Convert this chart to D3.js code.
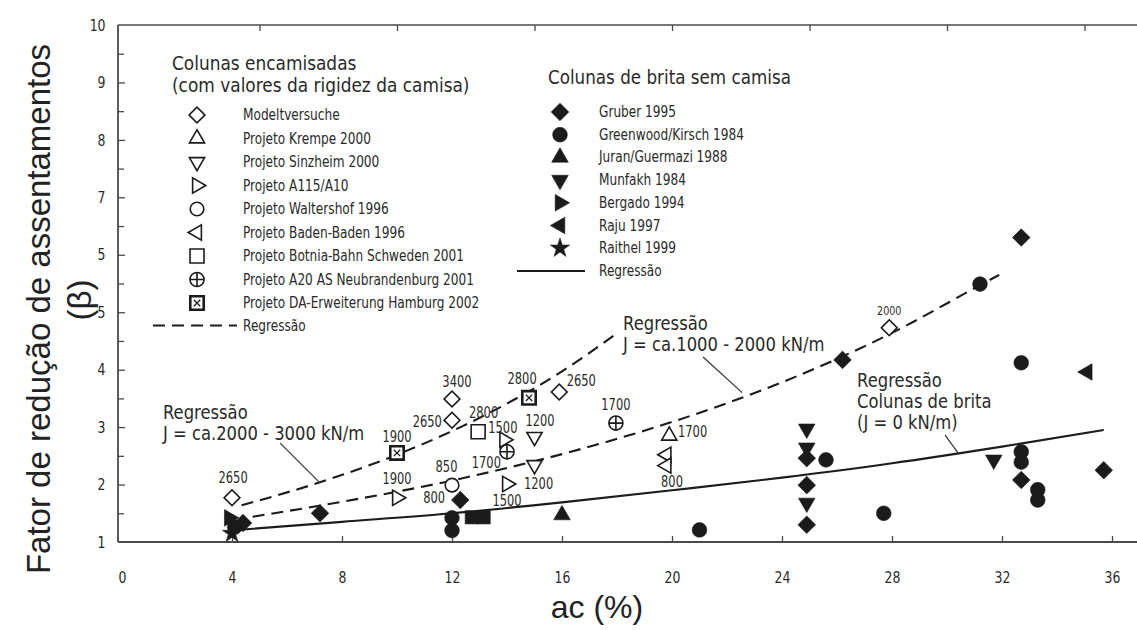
<!DOCTYPE html>
<html>
<head>
<meta charset="utf-8">
<script src="https://cdnjs.cloudflare.com/ajax/libs/d3/7.8.5/d3.min.js"></script>
<style>
body{margin:0;background:#fff;}
</style>
</head>
<body>
<script>
// axis ticks (the original figure prints "5" twice on the y axis)
var xTicks=[0,4,8,12,16,20,24,28,32,36];
var yTicks=[1,2,3,4,5,6,7,8,9,10];
var yTickLabels=['1','2','3','4','5','5','7','8','9','10'];
var yMinorTicks=[1.5,2.5,3.5,4.5,5.5,6.5,7.5,8.5,9.5];
var topTicks=[5,10,15,20,25,30,35];

// colunas encamisadas (open symbols)  [ac %, beta]
var modeltversuche=[[4.0,1.77],[12.0,3.12],[12.0,3.49],[15.9,3.61],[27.9,4.73]];
var krempe=[[19.9,2.85]];
var sinzheim=[[15.0,2.83],[15.0,2.34]];
var a115=[[10.0,1.77],[13.9,2.78],[14.0,2.01]];
var waltershof=[[12.0,1.99]];
var badenBaden=[[19.8,2.52],[19.8,2.33]];
var botnia=[[12.95,2.92]];
var a20=[[14.0,2.57],[17.96,3.07]];
var hamburg=[[10.0,2.55],[14.8,3.51]];

// colunas de brita sem camisa (filled symbols)
var gruber=[[4.4,1.33],[7.2,1.5],[12.3,1.73],[24.9,2.46],[24.9,1.99],[24.9,1.3],[26.2,4.17],[32.7,6.3],[32.7,2.08],[35.7,2.25]];
var greenwood=[[4.1,1.26],[12.0,1.42],[12.0,1.2],[21.0,1.21],[25.6,2.43],[27.7,1.5],[31.2,5.49],[32.7,4.12],[32.7,2.57],[32.7,2.39],[33.3,1.91],[33.3,1.73]];
var juran=[[16.0,1.47]];
var munfakh=[[24.9,2.97],[24.9,2.64],[24.9,1.68],[31.7,2.43]];
var bergado=[[3.9,1.42]];
var raju=[[35.1,3.96]];
var raithel=[[4.0,1.15]];
var blackSquares=[[12.72,1.43],[13.15,1.43]];

// regression curves
var regJ2000_3000=[[4.35,1.64],[7.2,2.04],[10,2.52],[12,2.93],[14,3.41],[16,3.97],[17.9,4.6]];
var regJ1000_2000=[[4.75,1.44],[8,1.7],[12,2.07],[16,2.53],[20,3.09],[24,3.78],[28,4.64],[31.2,5.47],[31.9,5.65]];
var regJ0=[[4.2,1.21],[8,1.35],[12,1.5],[16,1.69],[20,1.9],[24,2.12],[28,2.37],[32,2.66],[35.7,2.95]];

// stiffness labels next to the jacketed columns [text, ac, beta]
var stiffnessLabels=[
    ['2650',4.04,2.13],['1900',10.0,2.83],['1900',10.0,2.11],['3400',12.18,3.79],
    ['2650',11.1,3.09],['2800',13.15,3.26],['2800',14.55,3.84],['2650',16.7,3.82],
    ['1500',13.85,3.0],['1200',15.2,3.11],['1700',13.25,2.39],['1200',15.15,2.01],
    ['1500',14.0,1.73],['850',11.8,2.31],['800',11.35,1.78],['1700',17.96,3.39],
    ['1700',20.75,2.92],['800',20.0,2.05],['2000',27.9,5.04]
];

var annotations=[
    {lines:['Regressão','J = ca.2000 - 3000 kN/m'],x:1.49,y:3.26,lead:[[5.75,2.72],[7.2,2.03]]},
    {lines:['Regressão','J = ca.1000 - 2000 kN/m'],x:18.22,y:4.81,lead:[[21.13,4.22],[22.55,3.6]]},
    {lines:['Regressão','Colunas de brita','(J = 0 kN/m)'],x:26.73,y:3.82,lead:[[29.93,2.86],[30.4,2.55]]}
];

var leftLegendTitle=['Colunas encamisadas','(com valores da rigidez da camisa)'];
var leftLegend=['Modeltversuche','Projeto Krempe 2000','Projeto Sinzheim 2000','Projeto A115/A10',
    'Projeto Waltershof 1996','Projeto Baden-Baden 1996','Projeto Botnia-Bahn Schweden 2001',
    'Projeto A20 AS Neubrandenburg 2001','Projeto DA-Erweiterung Hamburg 2002'];
var rightLegendTitle='Colunas de brita sem camisa';
var rightLegend=['Gruber 1995','Greenwood/Kirsch 1984','Juran/Guermazi 1988','Munfakh 1984',
    'Bergado 1994','Raju 1997','Raithel 1999'];

var openSeries=[
    {data:modeltversuche,shape:'diamond'},{data:krempe,shape:'triup'},{data:sinzheim,shape:'tridown'},
    {data:a115,shape:'triright'},{data:waltershof,shape:'circle'},{data:badenBaden,shape:'trileft'},
    {data:botnia,shape:'square'},{data:a20,shape:'circleplus'},{data:hamburg,shape:'squarex'}
];
var filledSeries=[
    {data:gruber,shape:'diamond'},{data:greenwood,shape:'circle'},{data:juran,shape:'triup'},
    {data:munfakh,shape:'tridown'},{data:bergado,shape:'triright'},{data:raju,shape:'trileft'},
    {data:raithel,shape:'star'}
];

var W=1137,H=630;
var INK='#1b1b1b',TXT='#2a2a2a',AX='#4a4a4a';
var F='"DejaVu Sans", sans-serif';
var px='px';

var svg=d3.select('body').append('svg').attr('width',W).attr('height',H)
    .style('background','#fff');

var x=d3.scaleLinear().domain([0,36]).range([122,1112]);
var y=d3.scaleLinear().domain([1,10]).range([542,25]);
var axisLeftX=118;

function txt(parent,px0,py0,s,size,sx,anchor,family,fill){
    return parent.append('text')
        .attr('transform','translate('+px0+','+py0+') scale('+sx+',1)')
        .attr('text-anchor',anchor||'start')
        .style('font-size',size+px)
        .style('font-family',family||F)
        .attr('fill',fill||TXT)
        .text(s);
}

// ---- axes ----
var gx=svg.append('g').attr('transform','translate(0,542)')
    .call(d3.axisBottom(x).tickValues(xTicks).tickSize(-6).tickPadding(30));
var gTop=svg.append('g').attr('transform','translate(0,25)')
    .call(d3.axisTop(x).tickValues(topTicks).tickSize(-6).tickFormat(''));
var gy=svg.append('g').attr('transform','translate('+axisLeftX+',0)')
    .call(d3.axisLeft(y).tickValues(yTicks).tickSize(-7).tickPadding(16)
        .tickFormat(function(d,i){return yTickLabels[i];}));
var gyMinor=svg.append('g').attr('transform','translate('+axisLeftX+',0)')
    .call(d3.axisLeft(y).tickValues(yMinorTicks).tickSize(-6).tickFormat(''));

[gx,gTop,gy,gyMinor].forEach(function(g){
    g.select('.domain').remove();
    g.selectAll('.tick line').attr('stroke',AX).attr('stroke-width',1.3);
    g.selectAll('.tick text')
        .attr('fill',TXT)
        .style('font-family',F)
        .style('font-size','16px')
        .attr('transform','scale(0.78,1)');
});
gx.selectAll('.tick').filter(function(d){return d===0;}).select('line').remove();
gy.selectAll('.tick').filter(function(d){return d===1||d===10;}).select('line').remove();

// frame lines
svg.append('line').attr('x1',axisLeftX).attr('x2',W).attr('y1',542).attr('y2',542)
    .attr('stroke',AX).attr('stroke-width',1.8);
svg.append('line').attr('x1',axisLeftX).attr('x2',W).attr('y1',25).attr('y2',25)
    .attr('stroke',AX).attr('stroke-width',1.6);
svg.append('line').attr('x1',axisLeftX).attr('x2',axisLeftX).attr('y1',25).attr('y2',542)
    .attr('stroke',AX).attr('stroke-width',1.8);

// axis titles
svg.append('text')
    .attr('transform','translate(50,309) rotate(-90)')
    .attr('text-anchor','middle')
    .style('font-family','"Liberation Sans", Arial, sans-serif')
    .style('font-size','33px')
    .attr('fill','#222')
    .text('Fator de redução de assentamentos');
svg.append('text')
    .attr('transform','translate(91,300) rotate(-90)')
    .attr('text-anchor','middle')
    .style('font-family','"Liberation Sans", Arial, sans-serif')
    .style('font-size','33px')
    .attr('fill','#222')
    .text('(β)');
svg.append('text')
    .attr('x',597).attr('y',618)
    .attr('text-anchor','middle')
    .style('font-family','"Liberation Sans", Arial, sans-serif')
    .style('font-size','32px')
    .attr('fill','#222')
    .text('ac (%)');

// ---- marks ----
function mark(g,shape,filled){
    var fill=filled?INK:'#fff';
    var sw=filled?0.6:1.6;
    var p=function(type,size,rot){
        return g.append('path')
            .attr('d',d3.symbol().type(type).size(size)())
            .attr('transform','rotate('+(rot||0)+')')
            .attr('fill',fill).attr('stroke',INK).attr('stroke-width',sw);
    };
    if(shape==='diamond') p(d3.symbolSquare,filled?155:125,45);
    else if(shape==='circle') p(d3.symbolCircle,filled?170:145);
    else if(shape==='square') p(d3.symbolSquare,filled?175:195);
    else if(shape==='triup') p(d3.symbolTriangle,filled?120:100,0);
    else if(shape==='tridown') p(d3.symbolTriangle,filled?120:100,180);
    else if(shape==='triright') p(d3.symbolTriangle,filled?120:100,90);
    else if(shape==='trileft') p(d3.symbolTriangle,filled?120:100,-90);
    else if(shape==='star') p(d3.symbolStar,filled?115:90);
    else if(shape==='circleplus'){
        p(d3.symbolCircle,155);
        var r=Math.sqrt(155/Math.PI);
        g.append('path').attr('d','M'+(-r)+',0H'+r+'M0,'+(-r)+'V'+r)
            .attr('stroke',INK).attr('stroke-width',1.6);
    }
    else if(shape==='squarex'){
        p(d3.symbolSquare,180).attr('stroke-width',2.6);
        var h=3.2;
        g.append('path').attr('d','M'+(-h)+','+(-h)+'L'+h+','+h+'M'+h+','+(-h)+'L'+(-h)+','+h)
            .attr('stroke',INK).attr('stroke-width',1.3);
    }
}

// regression curves
var line=d3.line().x(function(d){return x(d[0]);}).y(function(d){return y(d[1]);})
    .curve(d3.curveMonotoneX);
svg.append('path').datum(regJ2000_3000).attr('d',line).attr('fill','none')
    .attr('stroke',INK).attr('stroke-width',2.1).attr('stroke-dasharray','12,7');
svg.append('path').datum(regJ1000_2000).attr('d',line).attr('fill','none')
    .attr('stroke',INK).attr('stroke-width',2.1).attr('stroke-dasharray','12,7');
svg.append('path').datum(regJ0).attr('d',line).attr('fill','none')
    .attr('stroke',INK).attr('stroke-width',2.1);

// annotations with leader lines
annotations.forEach(function(a){
    svg.append('line')
        .attr('x1',x(a.lead[0][0])).attr('y1',y(a.lead[0][1]))
        .attr('x2',x(a.lead[1][0])).attr('y2',y(a.lead[1][1]))
        .attr('stroke','#333').attr('stroke-width',1.2);
    a.lines.forEach(function(s,i){
        txt(svg,x(a.x),y(a.y)+7+i*21,s,20,0.82,'start');
    });
});

// points
var pts=svg.append('g');
openSeries.forEach(function(s){
    s.data.forEach(function(d){
        mark(pts.append('g').attr('transform','translate('+x(d[0])+','+y(d[1])+')'),s.shape,false);
    });
});
filledSeries.forEach(function(s){
    s.data.forEach(function(d){
        mark(pts.append('g').attr('transform','translate('+x(d[0])+','+y(d[1])+')'),s.shape,true);
    });
});
blackSquares.forEach(function(d){
    mark(pts.append('g').attr('transform','translate('+x(d[0])+','+y(d[1])+')'),'square',true);
});

// stiffness labels
stiffnessLabels.forEach(function(d){
    txt(svg,x(d[1]),y(d[2])+5.5,d[0],d[0]==='2000'?13:15.5,0.74,'middle');
});

// ---- legends ----
var lg=svg.append('g');
txt(lg,172,63+7,leftLegendTitle[0],19.5,0.87,'start');
txt(lg,172,85+7,leftLegendTitle[1],19.5,0.87,'start');
leftLegend.forEach(function(s,i){
    var cy=115+i*23.5;
    mark(lg.append('g').attr('transform','translate(197,'+cy+')'),openSeries[i].shape,false);
    txt(lg,243,cy+5,s,15,0.81,'start');
});
lg.append('line').attr('x1',153).attr('x2',237).attr('y1',325.5).attr('y2',325.5)
    .attr('stroke',INK).attr('stroke-width',2.1).attr('stroke-dasharray','12,7');
txt(lg,243,325.5+5,'Regressão',15,0.81,'start');

txt(lg,548,77+7,rightLegendTitle,19.5,0.86,'start');
rightLegend.forEach(function(s,i){
    var cy=112+i*22.7;
    mark(lg.append('g').attr('transform','translate(560,'+cy+')'),filledSeries[i].shape,true);
    txt(lg,599,cy+5,s,15,0.81,'start');
});
lg.append('line').attr('x1',517).attr('x2',585).attr('y1',271).attr('y2',271)
    .attr('stroke',INK).attr('stroke-width',2.1);
txt(lg,599,271+5,'Regressão',15,0.81,'start');
</script>
</body>
</html>
